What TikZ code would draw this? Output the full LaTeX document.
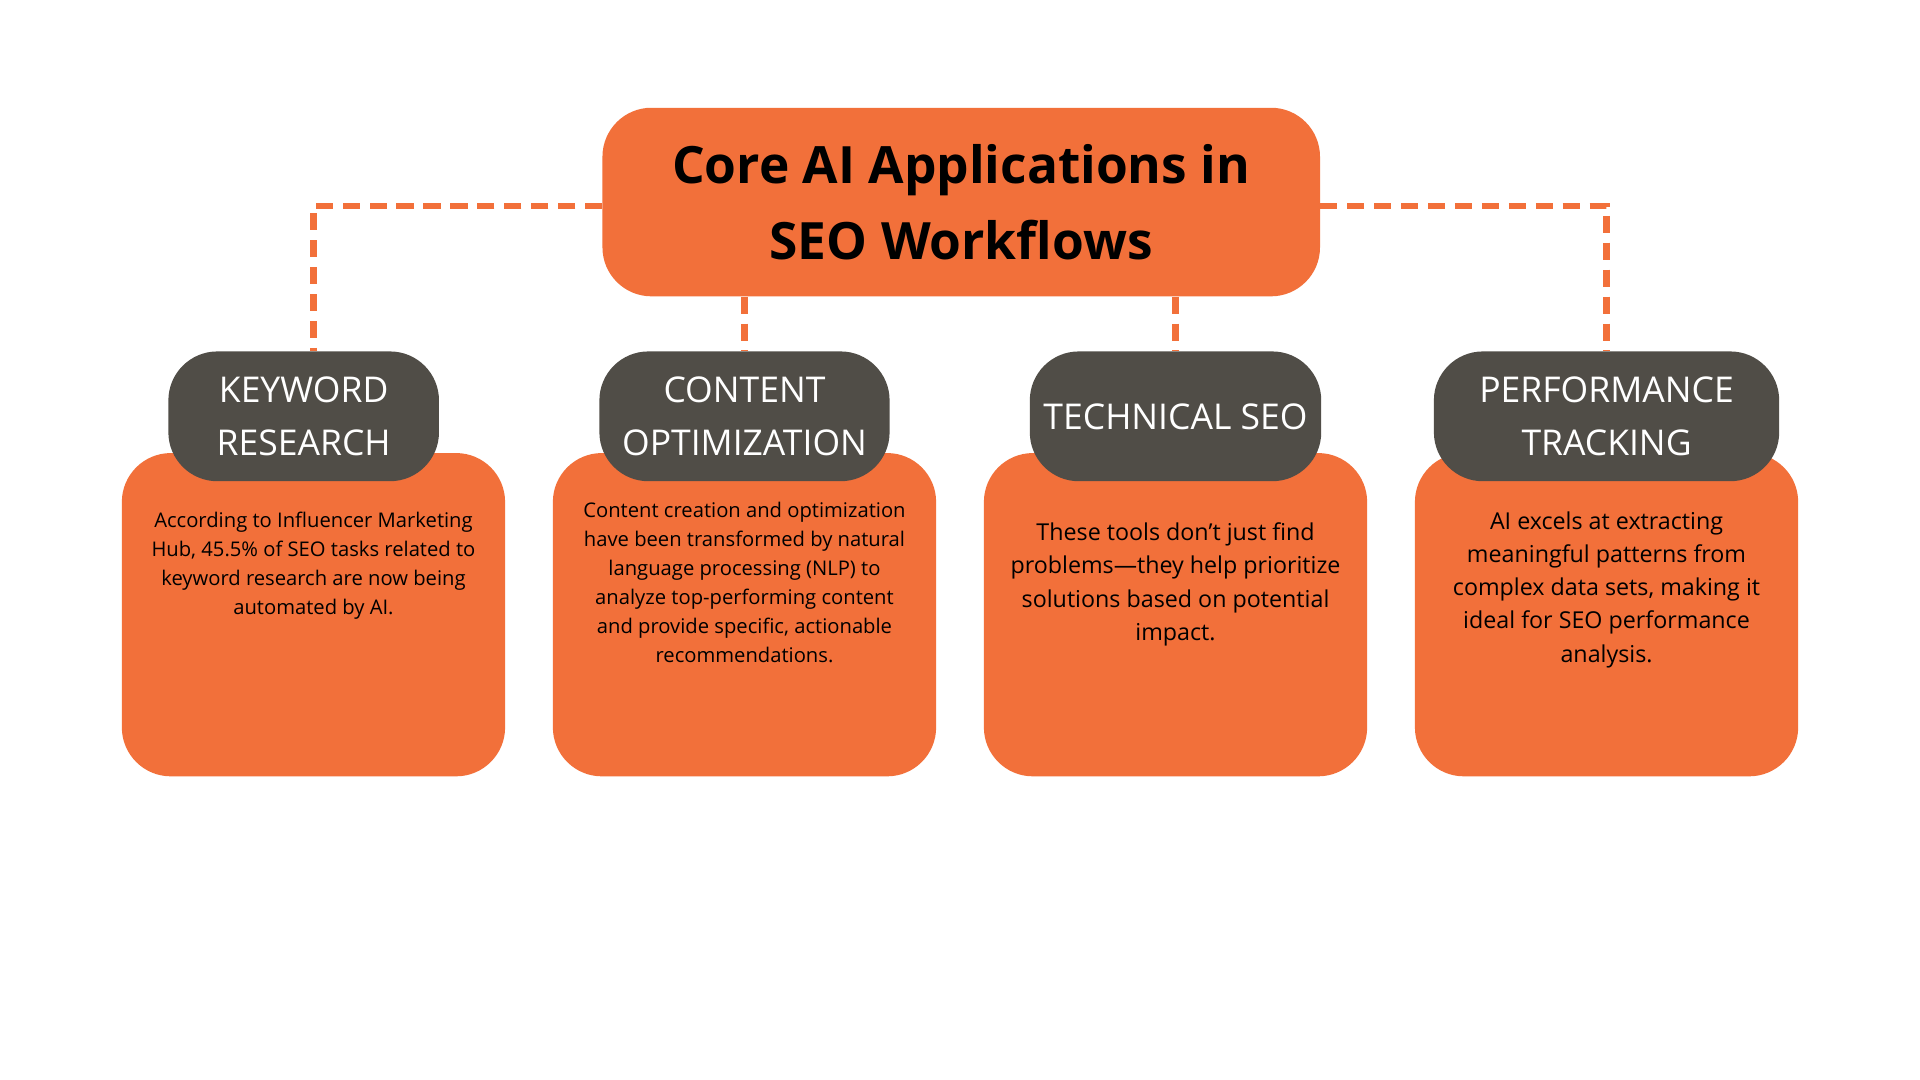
\documentclass[tikz,border=0pt]{standalone}
\usepackage{fontspec}
\setmainfont{Open Sans}
\definecolor{corange}{RGB}{242,112,58}
\definecolor{cgrey}{RGB}{80,77,71}
\tikzset{
  bodybox/.style={fill=corange,rounded corners=40pt,minimum width=313pt,minimum height=264pt,inner sep=0pt},
  headbox/.style={fill=cgrey,rounded corners=40pt,minimum height=106pt,inner sep=0pt,text=white,align=center,font=\fontsize{29}{43}\selectfont},
  bodytext/.style={anchor=north,align=center,inner sep=0pt},
  link/.style={draw=corange,line width=5pt,dash pattern=on 14pt off 8pt}
}
\begin{document}
\begin{tikzpicture}[x=1pt,y=1pt,yscale=-1]
\useasboundingbox[fill=white] (0,0) rectangle (1568,882);
  % title
  \node[fill=corange,rounded corners=40pt,minimum width=586pt,minimum height=154pt,align=center,
    font=\fontsize{42}{62}\selectfont\bfseries] (title) at (785,165) {Core AI Applications in\\SEO Workflows};
  % body boxes
  \node[bodybox] (kwbody) at (256,502) {};
  \node[bodybox] (cobody) at (608,502) {};
  \node[bodybox] (tebody) at (960,502) {};
  \node[bodybox] (pebody) at (1312,502) {};
  % connectors
  \path[link] (title.west |- 0,168) -| (kwbody.north |- 0,287);
  \path[link] (title.east |- 0,168) -| (pebody.north |- 0,287);
  \path[link] (title.south -| cobody.north) -- (cobody.north |- 0,287);
  \path[link] (title.south -| tebody.north) -- (tebody.north |- 0,287);
  % headers
  \node[headbox,minimum width=221pt] (kwhead) at (248,340) {KEYWORD\\RESEARCH};
  \node[headbox,minimum width=237pt] (cohead) at (608,340) {CONTENT\\OPTIMIZATION};
  \node[headbox,minimum width=238pt] (tehead) at (960,340) {TECHNICAL SEO};
  \node[headbox,minimum width=282pt] (pehead) at (1312,340) {PERFORMANCE\\TRACKING};
  % texts
  \node[bodytext,font=\fontsize{16.5}{23.7}\selectfont] (kwtext) at (256,418)
    {According to Influencer Marketing\\Hub, 45.5\% of SEO tasks related to\\keyword research are now being\\automated by AI.};
  \node[bodytext,font=\fontsize{16.5}{23.7}\selectfont] (cotext) at (608,410)
    {Content creation and optimization\\have been transformed by natural\\language processing (NLP) to\\analyze top-performing content\\and provide specific, actionable\\recommendations.};
  \node[bodytext,font=\fontsize{19}{27}\selectfont] (tetext) at (960,427)
    {These tools don't just find\\problems—they help prioritize\\solutions based on potential\\impact.};
  \node[bodytext,font=\fontsize{19}{27}\selectfont] (petext) at (1312,418)
    {AI excels at extracting\\meaningful patterns from\\complex data sets, making it\\ideal for SEO performance\\analysis.};
\end{tikzpicture}
\end{document}
